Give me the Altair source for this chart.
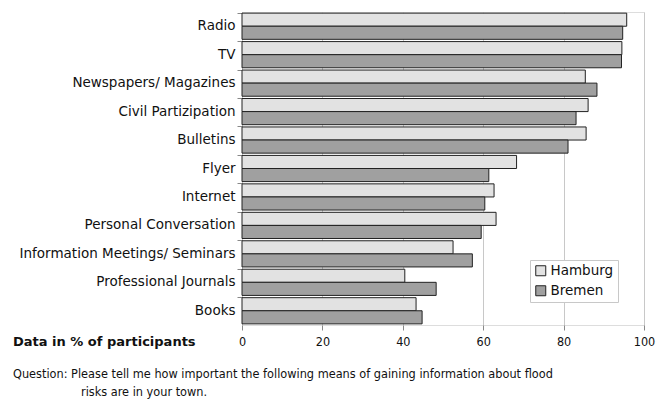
import altair as alt
import pandas as pd

categories = ["Radio", "TV", "Newspapers/ Magazines", "Civil Partizipation", "Bulletins",
              "Flyer", "Internet", "Personal Conversation",
              "Information Meetings/ Seminars", "Professional Journals", "Books"]
hamburg = [95.7, 94.5, 85.4, 86.1, 85.6, 68.3, 62.7, 63.2, 52.5, 40.5, 43.3]
bremen = [94.7, 94.4, 88.3, 83.1, 81.1, 61.4, 60.4, 59.5, 57.3, 48.3, 44.8]
series = ["Hamburg", "Bremen"]
x_ticks = [0, 20, 40, 60, 80, 100]

rows = []
for c, h, b in zip(categories, hamburg, bremen):
    rows.append({"cat": c, "city": "Hamburg", "val": h})
    rows.append({"cat": c, "city": "Bremen", "val": b})
df = pd.DataFrame(rows)

FONT = "DejaVu Sans"
COND = "DejaVu Sans Condensed"

bars = alt.Chart(df).mark_bar(stroke="#222222", strokeWidth=1).encode(
    x=alt.X("val:Q", scale=alt.Scale(domain=[0, 100], nice=False),
            axis=alt.Axis(values=x_ticks, title=None, grid=True, gridColor="#c8c8c8",
                          domain=False, tickColor="#888888", tickSize=5, labelFlush=False,
                          labelFont=COND, labelFontSize=12.5,
                          labelColor="#111111", labelPadding=5)),
    y=alt.Y("cat:N", sort=categories,
            scale=alt.Scale(paddingInner=0.08, paddingOuter=0.04),
            axis=alt.Axis(title=None, bandPosition=0, tickColor="#888888", tickSize=5,
                          domain=False, labelFont=FONT, labelFontSize=13.5,
                          labelColor="#111111", labelPadding=2, labelLimit=300)),
    yOffset=alt.YOffset("city:N", sort=series,
                        scale=alt.Scale(paddingInner=0, paddingOuter=0)),
    fill=alt.Fill("city:N", sort=series,
                  scale=alt.Scale(domain=series, range=["#e2e2e2", "#a0a0a0"]),
                  legend=alt.Legend(title=None, orient="none", legendX=288, legendY=248,
                                    symbolType="square", symbolSize=100,
                                    symbolStrokeColor="#222222", symbolStrokeWidth=1,
                                    labelFont=FONT, labelFontSize=13.5, labelColor="#111111",
                                    strokeColor="#c8c8c8", fillColor="white",
                                    padding=4, rowPadding=5, labelOffset=3)),
)

note = alt.Chart(pd.DataFrame({"t": ["Data in % of participants"]})).mark_text(
    align="left", baseline="middle", font=FONT, fontSize=13, fontWeight="bold", color="#111111"
).encode(x=alt.value(-229), y=alt.value(330), text="t:N")

q1 = alt.Chart(pd.DataFrame({"t": ["Question: Please tell me how important the following means of gaining information about flood"]})).mark_text(
    align="left", baseline="middle", font=COND, fontSize=12.6, color="#111111"
).encode(x=alt.value(-229), y=alt.value(362), text="t:N")

q2 = alt.Chart(pd.DataFrame({"t": ["risks are in your town."]})).mark_text(
    align="left", baseline="middle", font=COND, fontSize=12.6, color="#111111"
).encode(x=alt.value(-161), y=alt.value(380), text="t:N")

chart = alt.layer(bars, note, q1, q2).properties(
    width=402, height=313,
    autosize=alt.AutoSizeParams(type="none"),
    padding={"left": 242, "top": 12, "right": 22, "bottom": 76},
).configure_view(stroke="#222222", strokeWidth=1).configure(background="white")

chart.save("out.html", embed_options={"renderer": "svg", "actions": False})
